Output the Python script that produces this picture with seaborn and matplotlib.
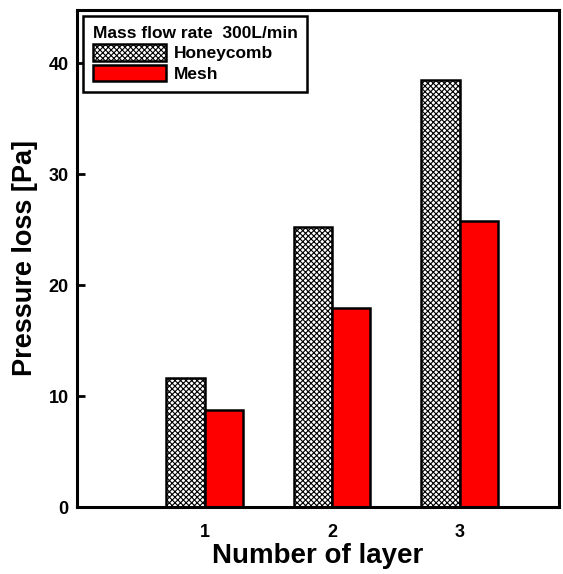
import seaborn as sns
import matplotlib.pyplot as plt
import pandas as pd

layers = ["1", "2", "3"]
honeycomb = [11.6, 25.2, 38.5]
mesh = [8.7, 17.9, 25.8]

df = pd.DataFrame({
    "layer": layers * 2,
    "loss": honeycomb + mesh,
    "type": ["Honeycomb"] * 3 + ["Mesh"] * 3,
})

sns.set_style("ticks")
plt.rcParams['font.family'] = ['Liberation Sans', 'DejaVu Sans']
plt.rcParams['hatch.linewidth'] = 0.8
plt.rcParams['text.color'] = 'black'
plt.rcParams['axes.labelcolor'] = 'black'
plt.rcParams['xtick.color'] = 'black'
plt.rcParams['ytick.color'] = 'black'

fig = plt.figure(figsize=(5.63, 5.74), dpi=100)
ax = fig.add_axes([0.137, 0.1167, 0.856, 0.866])

sns.barplot(data=df, x="layer", y="loss", hue="type", order=layers,
            hue_order=["Honeycomb", "Mesh"], palette=["white", "red"],
            width=0.6, edgecolor="black", linewidth=1.8, saturation=1,
            ax=ax)

# honeycomb bars get the cross hatch
for p in ax.containers[0]:
    p.set_hatch("xxxxxx")

ax.set_xlim(-1, 2.78)
ax.set_ylim(0, 44.8)
ax.set_yticks([0, 10, 20, 30, 40])

for s in ax.spines.values():
    s.set_linewidth(2.2)
    s.set_color("black")

ax.tick_params(axis="y", direction="in", length=6, width=2, labelsize=13, pad=6)
ax.tick_params(axis="x", length=0, labelsize=13, pad=12)
for lbl in ax.get_xticklabels() + ax.get_yticklabels():
    lbl.set_fontweight("bold")

ax.set_xlabel("Number of layer", fontsize=20, fontweight="bold", labelpad=2)
ax.set_ylabel("Pressure loss [Pa]", fontsize=19.5, fontweight="bold", labelpad=8)

leg = ax.legend(title="Mass flow rate  300L/min", loc="upper left",
                bbox_to_anchor=(0.0, 1.0), fancybox=False, framealpha=1,
                fontsize=12.5, title_fontsize=12.5, handlelength=4.2,
                handleheight=1.1, borderpad=0.55, labelspacing=0.2,
                handletextpad=0.5, borderaxespad=0.35, alignment="left")
leg.get_frame().set_edgecolor("black")
leg.get_frame().set_linewidth(1.8)
leg.get_title().set_fontweight("bold")
for t in leg.get_texts():
    t.set_fontweight("bold")
for h in leg.legend_handles:
    h.set_edgecolor("black")
    h.set_linewidth(1.8)
leg.legend_handles[0].set_hatch("xxxxxx")

plt.savefig("out.png", dpi=100)
